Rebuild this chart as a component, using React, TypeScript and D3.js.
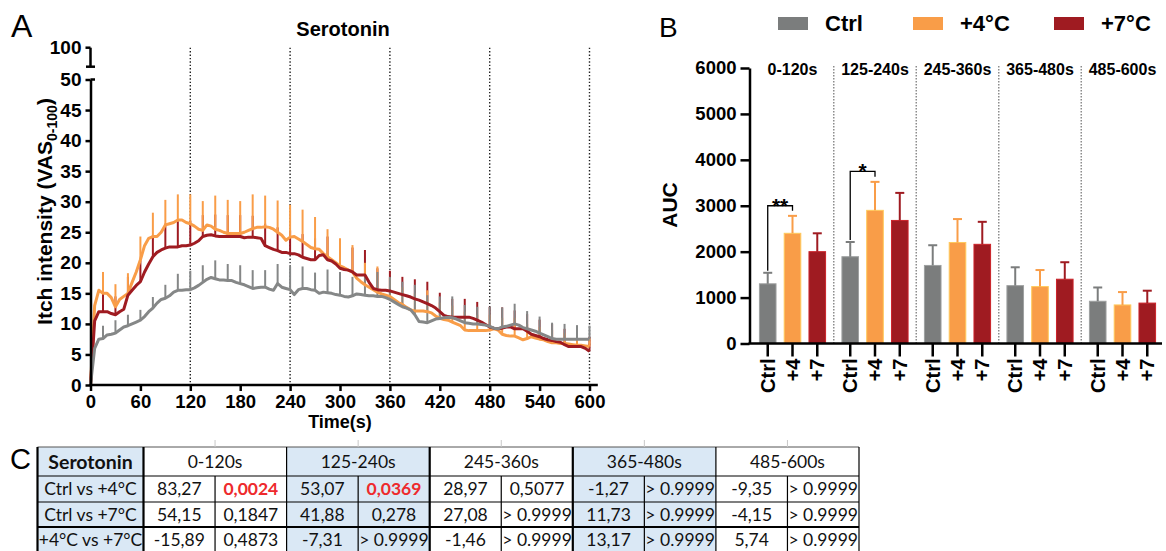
import { useEffect, useRef } from 'react';
import * as d3 from 'd3';

const FONT = "'Liberation Sans', Arial, sans-serif";
const TABLE_FONT = "Lato, 'Open Sans', sans-serif";

const GREY = '#7b7d7d';
const ORANGE = '#f99d48';
const RED = '#9f1b21';

// ---- panel A : mean itch intensity, one value every 5 s (0..600 s)
const ctrlCurve = [
  0, 6.0, 7.5, 7.6, 8.2, 8.3, 8.5, 9.0, 9.5, 9.7, 10.0, 10.3,
  10.6, 11.2, 12.0, 12.6, 13.4, 14.0, 14.2, 14.6, 15.2, 15.5, 15.5, 15.6,
  15.6, 15.9, 16.3, 16.8, 17.3, 17.6, 17.4, 17.2, 17.2, 17.1, 17.1, 16.8,
  16.6, 16.4, 16.1, 15.8, 15.9, 16.0, 16.0, 15.7, 15.5, 16.6, 16.0, 15.8,
  15.6, 14.8, 15.6, 15.8, 15.8, 15.6, 15.5, 15.0, 15.2, 15.1, 15.0, 14.8,
  14.7, 14.5, 14.4, 14.6, 14.9, 14.8, 14.7, 14.6, 14.6, 14.5, 14.5, 14.3,
  14.0, 13.6, 13.2, 12.8, 12.6, 12.3, 11.5, 10.4, 10.3, 10.2, 10.5, 10.8,
  10.9, 11.0, 11.1, 11.0, 10.8, 10.5, 10.2, 10.1, 10.0, 10.0, 9.9, 9.8,
  9.6, 9.3, 9.2, 9.5, 9.6, 9.8, 10.0, 9.8, 9.4, 9.2, 9.0, 8.8,
  8.5, 8.2, 7.9, 7.6, 7.5, 7.5, 7.5, 7.5, 7.5, 7.5, 7.5, 7.5,
  7.5
];
const plus4Curve = [
  0, 13.0, 15.5, 15.0, 15.0, 14.3, 12.8, 14.0, 14.5, 15.0, 16.8, 18.5,
  20.5, 22.8, 24.0, 24.3, 24.3, 25.0, 26.2, 26.4, 26.6, 27.0, 27.0, 26.6,
  26.4, 26.0, 25.5, 25.3, 26.2, 26.0, 25.5, 25.3, 25.0, 24.8, 24.8, 24.8,
  24.8, 25.0, 25.3, 25.6, 25.8, 25.8, 25.9, 25.8, 25.5, 25.0, 24.5, 23.7,
  24.2, 24.3, 23.9, 23.5, 23.0, 22.5, 22.3, 22.2, 21.5, 21.0, 20.5, 20.0,
  19.5, 19.2, 18.8, 18.5, 17.5, 16.9, 16.4, 16.0, 15.6, 15.2, 14.9, 14.7,
  14.5, 14.0, 13.5, 13.2, 12.7, 12.3, 12.1, 12.1, 12.1, 12.0, 11.8, 11.3,
  10.9, 10.7, 10.6, 10.3, 10.0, 9.7, 9.0, 8.9, 8.9, 8.9, 8.9, 8.9,
  9.0, 9.2, 9.0, 8.3, 8.1, 8.0, 8.0, 7.7, 7.4, 7.6, 7.9, 7.7,
  7.5, 7.4, 7.1, 6.9, 6.9, 6.8, 6.8, 6.7, 6.6, 6.5, 6.5, 6.4,
  6.3
];
const plus7Curve = [
  0, 10.5, 12.0, 12.0, 12.0, 11.7, 11.5, 12.0, 12.4, 14.7, 15.5, 16.3,
  16.9, 18.5, 19.8, 21.0, 21.7, 22.1, 22.4, 22.6, 22.6, 22.6, 22.8, 22.8,
  22.9, 23.2, 23.6, 24.3, 24.5, 24.6, 24.4, 24.3, 24.3, 24.3, 24.3, 24.3,
  24.3, 24.1, 24.2, 24.2, 24.1, 24.0, 22.8, 22.5, 22.2, 22.0, 21.7, 21.7,
  21.5, 21.5, 21.3, 20.9, 20.7, 20.5, 20.5, 21.2, 21.3, 20.5, 20.3, 19.8,
  19.1, 18.9, 18.8, 18.5, 18.0, 18.0, 18.0, 16.8, 15.8, 15.6, 15.5, 15.5,
  15.4, 15.2, 15.0, 14.8, 14.6, 14.4, 14.1, 13.9, 13.6, 13.3, 13.0, 12.6,
  12.0, 11.4, 11.2, 11.1, 11.1, 11.1, 11.1, 11.1, 10.9, 10.6, 10.3, 9.9,
  9.5, 9.3, 9.2, 9.3, 9.5, 9.5, 9.2, 9.2, 9.2, 8.8, 8.3, 8.1,
  7.9, 7.6, 7.4, 7.3, 7.1, 7.0, 6.6, 6.3, 6.3, 6.3, 6.3, 6.0,
  5.5
];
// SEM drawn every 15 s (15..600 s)
const ctrlSem = [
  2.1, 2.1, 1.8, 1.7, 1.8, 2.2, 2.7, 3.1, 2.8, 3.0, 2.7, 3.0, 3.0, 2.8, 3.2, 3.8, 3.6, 2.9, 3.8, 3.8,
  3.1, 3.0, 4.0, 3.7, 4.1, 4.9, 4.5, 3.6, 3.5, 2.9, 2.8, 3.2, 3.2, 3.3, 2.9, 2.7, 2.6, 2.5, 2.3, 2.2
];
const plus4Sem = [
  3.5, 3.7, 3.3, 3.8, 3.9, 4.1, 4.2, 4.8, 4.8, 5.5, 5.5, 5.3, 5.6, 5.1, 5.2, 5.3, 5.2, 5.2, 4.5, 4.5,
  4.4, 3.6, 4.2, 3.0, 2.8, 2.9, 3.5, 2.6, 2.7, 3.0, 2.6, 2.5, 2.7, 3.0, 2.4, 2.0, 2.1, 1.7, 1.5, 1.4
];
const plus7Sem = [
  3.0, 3.0, 3.0, 3.5, 3.5, 4.0, 4.2, 4.0, 3.5, 3.5, 3.5, 3.5, 3.5, 3.6, 3.8, 3.8, 3.8, 3.5, 3.8, 4.0,
  4.0, 4.1, 3.5, 3.3, 2.9, 3.2, 3.6, 3.1, 3.0, 3.0, 3.0, 3.3, 3.4, 3.0, 2.8, 2.8, 2.7, 2.6, 2.5, 2.4
];
const timeTicks = [0, 60, 120, 180, 240, 300, 360, 420, 480, 540, 600];
const intensityTicks = [0, 5, 10, 15, 20, 25, 30, 35, 40, 45, 50];
const windowMarks = [120, 240, 360, 480, 600];

// ---- panel B : AUC per time window
const windows = ['0-120s', '125-240s', '245-360s', '365-480s', '485-600s'];
const groups = ['Ctrl', '+4', '+7'];
const legendLabels = ['Ctrl', '+4°C', '+7°C'];
const aucCtrl = [1300, 1890, 1700, 1260, 920];
const aucPlus4 = [2400, 2900, 2200, 1240, 840];
const aucPlus7 = [2000, 2680, 2160, 1400, 880];
const aucCtrlErr = [240, 320, 440, 400, 300];
const aucPlus4Err = [380, 620, 510, 360, 280];
const aucPlus7Err = [400, 600, 490, 370, 270];
const aucTicks = [0, 1000, 2000, 3000, 4000, 5000, 6000];
const brackets = [
  { win: '0-120s', level: 3000, label: '**' },
  { win: '125-240s', level: 3750, label: '*' }
];

// ---- panel C : post-hoc table
const rowLabels = ['Ctrl vs +4°C', 'Ctrl vs +7°C', '+4°C vs +7°C'];
const meanDiffs = [
  ['83,27', '53,07', '28,97', '-1,27', '-9,35'],
  ['54,15', '41,88', '27,08', '11,73', '-4,15'],
  ['-15,89', '-7,31', '-1,46', '13,17', '5,74']
];
const pValues = [
  ['0,0024', '0,0369', '0,5077', '> 0.9999', '> 0.9999'],
  ['0,1847', '0,278', '> 0.9999', '> 0.9999', '> 0.9999'],
  ['0,4873', '> 0.9999', '> 0.9999', '> 0.9999', '> 0.9999']
];

function drawTimecourse(g) {
  const x = d3.scaleLinear().domain([0, 600]).range([90.5, 589.5]);
  const y = d3.scaleLinear().domain([0, 50]).range([385, 79.5]);
  const topY = 47.7;
  const breakY = 66.7;

  g.append('text').attr('x', 11).attr('y', 37).attr('font-size', 32).attr('font-family', FONT).text('A');
  g.append('text')
    .attr('x', 343)
    .attr('y', 36)
    .attr('text-anchor', 'middle')
    .attr('font-size', 20)
    .attr('font-weight', 'bold')
    .attr('font-family', FONT)
    .text('Serotonin');

  g.append('g')
    .selectAll('line')
    .data(windowMarks)
    .join('line')
    .attr('x1', (d) => x(d))
    .attr('x2', (d) => x(d))
    .attr('y1', topY)
    .attr('y2', y(0))
    .attr('stroke', '#222')
    .attr('stroke-width', 1.4)
    .attr('stroke-dasharray', '1.4,2');

  const series = [
    { mean: plus7Curve, sem: plus7Sem, color: RED },
    { mean: plus4Curve, sem: plus4Sem, color: ORANGE },
    { mean: ctrlCurve, sem: ctrlSem, color: '#858787' }
  ];

  series.forEach((s) => {
    g.append('g')
      .selectAll('line')
      .data(s.sem)
      .join('line')
      .attr('x1', (d, i) => x((i + 1) * 15))
      .attr('x2', (d, i) => x((i + 1) * 15))
      .attr('y1', (d, i) => y(s.mean[(i + 1) * 3]))
      .attr('y2', (d, i) => y(s.mean[(i + 1) * 3] + d))
      .attr('stroke', s.color)
      .attr('stroke-width', 2);
  });

  const line = d3
    .line<number>()
    .x((d, i) => x(i * 5))
    .y((d) => y(d));
  [series[1], series[0], series[2]].forEach((s) => {
    g.append('path')
      .attr('d', line(s.mean))
      .attr('fill', 'none')
      .attr('stroke', s.color)
      .attr('stroke-width', 3)
      .attr('stroke-linejoin', 'round');
  });

  // axes
  const xAxis = g
    .append('g')
    .attr('transform', `translate(0,${y(0)})`)
    .call(d3.axisBottom(x).tickValues(timeTicks).tickSize(6).tickSizeOuter(0).tickPadding(4));
  xAxis.select('.domain').remove();
  xAxis.append('line').attr('x1', x(0) - 1).attr('x2', x(610)).attr('stroke', '#000').attr('stroke-width', 2.5);

  const yAxis = g
    .append('g')
    .attr('transform', `translate(${x(0)},0)`)
    .call(d3.axisLeft(y).tickValues(intensityTicks).tickSize(5).tickSizeOuter(0).tickPadding(4));
  yAxis.select('.domain').attr('stroke-width', 2.5);
  yAxis.append('line').attr('x1', 0).attr('x2', 4.5).attr('y1', y(50)).attr('y2', y(50)).attr('stroke', '#000').attr('stroke-width', 2.5);

  const brk = g.append('g').attr('transform', `translate(${x(0)},0)`).attr('stroke', '#000').attr('stroke-width', 2.5);
  brk.append('line').attr('x1', 0).attr('x2', 0).attr('y1', topY).attr('y2', breakY);
  brk.append('line').attr('x1', -5).attr('x2', 0).attr('y1', topY).attr('y2', topY);
  brk.append('line').attr('x1', -4.5).attr('x2', 4.5).attr('y1', breakY).attr('y2', breakY);
  g.append('text')
    .attr('x', x(0) - 9)
    .attr('y', topY)
    .attr('dy', '0.35em')
    .attr('text-anchor', 'end')
    .attr('font-size', 19)
    .attr('font-weight', 'bold')
    .attr('font-family', FONT)
    .text('100');

  [xAxis, yAxis].forEach((a) => {
    a.selectAll('.tick line').attr('stroke-width', 2.5);
    a.selectAll('.tick text').attr('font-weight', 'bold').attr('font-family', FONT).attr('fill', '#000');
  });
  yAxis.selectAll('.tick text').attr('font-size', 19);
  xAxis.selectAll('.tick text').attr('font-size', 18.5);

  g.append('text')
    .attr('x', 340)
    .attr('y', 428)
    .attr('text-anchor', 'middle')
    .attr('font-size', 18)
    .attr('font-weight', 'bold')
    .attr('font-family', FONT)
    .text('Time(s)');

  const yl = g
    .append('text')
    .attr('transform', 'translate(52,211.5) rotate(-90)')
    .attr('text-anchor', 'middle')
    .attr('font-size', 21)
    .attr('font-weight', 'bold')
    .attr('font-family', FONT);
  yl.append('tspan').text('Itch intensity (VAS');
  yl.append('tspan').attr('font-size', 14).attr('dy', 5).text('0-100');
  yl.append('tspan').attr('dy', -5).text(')');
}

function drawAuc(g) {
  const y = d3.scaleLinear().domain([0, 6000]).range([343.5, 68]);
  const gx = d3.scaleBand<string>().domain(windows).range([751.25, 1163.75]);
  const bx = d3.scaleBand<string>().domain(groups).range([0, gx.bandwidth()]).padding(0.33);
  const axisX = 749.5;
  const colors = [GREY, ORANGE, RED];
  const values = [aucCtrl, aucPlus4, aucPlus7];
  const errors = [aucCtrlErr, aucPlus4Err, aucPlus7Err];
  const cx = (w: string, grp: string) => (gx(w) ?? 0) + (bx(grp) ?? 0) + bx.bandwidth() / 2;

  const bars = windows.flatMap((w, i) =>
    groups.map((grp, j) => ({ w, grp, v: values[j][i], e: errors[j][i], color: colors[j] }))
  );

  g.append('text').attr('x', 659).attr('y', 37).attr('font-size', 28).attr('font-family', FONT).text('B');

  // legend
  const leg = g.append('g');
  const legX = [778, 913, 1054];
  legendLabels.forEach((lab, i) => {
    leg.append('rect').attr('x', legX[i]).attr('y', 17).attr('width', 30).attr('height', 13).attr('fill', colors[i]);
    leg.append('text')
      .attr('x', legX[i] + 47)
      .attr('y', 31)
      .attr('font-size', 22)
      .attr('font-weight', 'bold')
      .attr('font-family', FONT)
      .text(lab);
  });

  // separators
  g.append('g')
    .selectAll('line')
    .data(windows.slice(0, -1))
    .join('line')
    .attr('x1', (d) => (gx(d) ?? 0) + gx.bandwidth())
    .attr('x2', (d) => (gx(d) ?? 0) + gx.bandwidth())
    .attr('y1', 66)
    .attr('y2', y(0))
    .attr('stroke', '#8c8c8c')
    .attr('stroke-width', 1.5)
    .attr('stroke-dasharray', '1.5,1.5');

  g.append('g')
    .selectAll('text')
    .data(windows)
    .join('text')
    .attr('x', (d) => (gx(d) ?? 0) + gx.bandwidth() / 2)
    .attr('y', 75)
    .attr('text-anchor', 'middle')
    .attr('font-size', 16)
    .attr('font-weight', 'bold')
    .attr('font-family', FONT)
    .text((d) => d);

  // bars
  g.append('g')
    .selectAll('rect')
    .data(bars)
    .join('rect')
    .attr('x', (d) => cx(d.w, d.grp) - bx.bandwidth() / 2)
    .attr('width', bx.bandwidth())
    .attr('y', (d) => y(d.v))
    .attr('height', (d) => y(0) - y(d.v))
    .attr('fill', (d) => d.color)
    .attr('stroke', (d) => d3.color(d.color)?.brighter(0.7).formatHex() ?? d.color)
    .attr('stroke-width', 1);

  const eb = g.append('g').selectAll('g').data(bars).join('g').attr('stroke', (d) => d.color).attr('stroke-width', 2);
  eb.append('line')
    .attr('x1', (d) => cx(d.w, d.grp))
    .attr('x2', (d) => cx(d.w, d.grp))
    .attr('y1', (d) => y(d.v))
    .attr('y2', (d) => y(d.v + d.e));
  eb.append('line')
    .attr('x1', (d) => cx(d.w, d.grp) - 4.5)
    .attr('x2', (d) => cx(d.w, d.grp) + 4.5)
    .attr('y1', (d) => y(d.v + d.e))
    .attr('y2', (d) => y(d.v + d.e));

  // significance brackets (Ctrl vs +4)
  brackets.forEach((b) => {
    const i = windows.indexOf(b.win);
    const x1 = cx(b.win, 'Ctrl');
    const x2 = cx(b.win, '+4');
    const ly = y(b.level);
    g.append('path')
      .attr('d', `M${x1},${y(aucCtrl[i] + aucCtrlErr[i]) - 2}V${ly}H${x2}V${y(aucPlus4[i] + aucPlus4Err[i]) - 5}`)
      .attr('fill', 'none')
      .attr('stroke', '#000')
      .attr('stroke-width', 1.3);
    g.append('text')
      .attr('x', (x1 + x2) / 2)
      .attr('y', ly + 7)
      .attr('text-anchor', 'middle')
      .attr('font-size', 21)
      .attr('font-weight', 'bold')
      .attr('font-family', FONT)
      .text(b.label);
  });

  // axes
  const yAxis = g
    .append('g')
    .attr('transform', `translate(${axisX},0)`)
    .call(d3.axisLeft(y).tickValues(aucTicks).tickFormat(d3.format('d')).tickSize(9).tickSizeOuter(0).tickPadding(4));
  yAxis.select('.domain').attr('stroke-width', 2.5);
  yAxis.selectAll('.tick line').attr('stroke-width', 2.5);
  yAxis.selectAll('.tick text').attr('font-size', 18.5).attr('font-weight', 'bold').attr('font-family', FONT).attr('fill', '#000');

  g.append('line').attr('x1', axisX - 1).attr('x2', 1162).attr('y1', y(0)).attr('y2', y(0)).attr('stroke', '#000').attr('stroke-width', 2.5);
  const xt = g.append('g').selectAll('g').data(bars).join('g').attr('transform', (d) => `translate(${cx(d.w, d.grp)},${y(0)})`);
  xt.append('line').attr('y2', 13).attr('stroke', '#000').attr('stroke-width', 2.5);
  xt.append('text')
    .attr('transform', 'translate(0,15) rotate(-90)')
    .attr('text-anchor', 'end')
    .attr('dy', '0.36em')
    .attr('font-size', 20)
    .attr('font-weight', 'bold')
    .attr('font-family', FONT)
    .text((d) => d.grp);

  g.append('text')
    .attr('transform', 'translate(677,205) rotate(-90)')
    .attr('text-anchor', 'middle')
    .attr('font-size', 21)
    .attr('font-weight', 'bold')
    .attr('font-family', FONT)
    .text('AUC');
}

function drawTable(g) {
  const left = 37.5;
  const labelRight = 143.5;
  const right = 859;
  const rowsY = [447, 476, 502, 527, 553];
  const wx = d3.scaleBand<string>().domain(windows).range([labelRight, right]);
  const half = wx.bandwidth() / 2;
  const blue = '#dae8f5';
  const shaded = [windows[1], windows[3]];

  g.append('text').attr('x', 10).attr('y', 469).attr('font-size', 29).attr('font-family', FONT).text('C');

  g.append('rect').attr('x', left).attr('y', rowsY[0]).attr('width', labelRight - left).attr('height', 110).attr('fill', blue);
  shaded.forEach((w) => {
    g.append('rect').attr('x', wx(w) ?? 0).attr('y', rowsY[0]).attr('width', wx.bandwidth()).attr('height', 110).attr('fill', blue);
  });

  const lines = g.append('g').attr('stroke', '#000');
  // horizontal rules
  lines.append('line').attr('x1', left).attr('x2', right).attr('y1', rowsY[0]).attr('y2', rowsY[0]).attr('stroke', '#555').attr('stroke-width', 1);
  [1, 2].forEach((r) => {
    lines.append('line').attr('x1', left).attr('x2', right).attr('y1', rowsY[r]).attr('y2', rowsY[r]).attr('stroke-width', 1.2);
  });
  lines.append('line').attr('x1', left).attr('x2', right).attr('y1', rowsY[3]).attr('y2', rowsY[3]).attr('stroke-width', 2);

  // vertical rules
  const thick = [left, labelRight, (wx(windows[2]) ?? 0), (wx(windows[3]) ?? 0)];
  const verts = [left, labelRight, ...windows.map((w) => (wx(w) ?? 0) + wx.bandwidth())];
  verts.forEach((vx) => {
    lines.append('line').attr('x1', vx).attr('x2', vx).attr('y1', rowsY[0]).attr('y2', 553).attr('stroke-width', thick.some((t) => Math.abs(t - vx) < 0.5) ? 2.2 : 1.2);
  });
  windows.forEach((w) => {
    const sx = (wx(w) ?? 0) + half;
    lines.append('line').attr('x1', sx).attr('x2', sx).attr('y1', rowsY[1]).attr('y2', 553).attr('stroke-width', 1.2);
    lines.append('line').attr('x1', sx).attr('x2', sx).attr('y1', 440).attr('y2', rowsY[0]).attr('stroke', '#c8c8c8').attr('stroke-width', 1);
  });

  const txt = (x: number, y: number, s: string, opts: { bold?: boolean; color?: string; size?: number } = {}) =>
    g.append('text')
      .attr('x', x)
      .attr('y', y)
      .attr('dy', '0.36em')
      .attr('text-anchor', 'middle')
      .attr('font-size', opts.size ?? 17.5)
      .attr('font-family', TABLE_FONT)
      .attr('font-weight', opts.bold ? 'bold' : 'normal')
      .attr('fill', opts.color ?? '#111')
      .text(s);

  const mid = (r: number) => (rowsY[r] + rowsY[r + 1]) / 2;
  txt((left + labelRight) / 2, mid(0), 'Serotonin', { bold: true, size: 19.5 });
  windows.forEach((w) => txt((wx(w) ?? 0) + half, mid(0), w));
  rowLabels.forEach((lab, r) => {
    txt((left + labelRight) / 2, mid(r + 1), lab);
    windows.forEach((w, c) => {
      txt((wx(w) ?? 0) + half / 2, mid(r + 1), meanDiffs[r][c]);
      const p = pValues[r][c];
      const sig = !p.startsWith('>') && parseFloat(p.replace(',', '.')) < 0.05;
      txt((wx(w) ?? 0) + half * 1.5, mid(r + 1), p, sig ? { bold: true, color: '#ee2a2d' } : {});
    });
  });
}

export default function App() {
  const ref = useRef<SVGSVGElement>(null);

  useEffect(() => {
    const svg = d3.select(ref.current);
    svg.selectAll('*').remove();
    drawTimecourse(svg.append('g'));
    drawAuc(svg.append('g'));
    drawTable(svg.append('g'));
  }, []);

  return (
    <svg
      ref={ref}
      width={1166}
      height={551}
      style={{ position: 'absolute', left: 0, top: 0, background: '#fff' }}
    />
  );
}
